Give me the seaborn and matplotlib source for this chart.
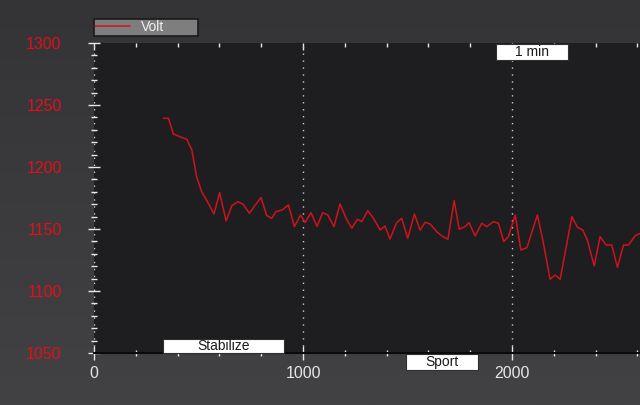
import numpy as np
import pandas as pd
import matplotlib
matplotlib.use("Agg")
import matplotlib.pyplot as plt
import matplotlib.transforms as mtransforms
from matplotlib.patches import Rectangle
from matplotlib.ticker import MultipleLocator
from matplotlib.colors import LinearSegmentedColormap
import seaborn as sns

# ---- data ----
time_s = [332, 356, 380, 412, 444, 468, 491, 515, 547, 574, 601, 632, 660, 689,
          714, 743, 770, 799, 826, 850, 871, 900, 930, 959, 988, 1010, 1038,
          1067, 1094, 1118, 1148, 1177, 1206, 1233, 1260, 1281, 1310, 1337,
          1369, 1392, 1416, 1448, 1472, 1501, 1533, 1560, 1584, 1608, 1640,
          1664, 1693, 1723, 1747, 1775, 1794, 1823, 1855, 1879, 1911, 1935,
          1960, 1982, 2015, 2042, 2071, 2121, 2147, 2182, 2206, 2230, 2286,
          2313, 2338, 2360, 2393, 2421, 2450, 2477, 2504, 2533, 2557, 2589, 2613]
volt = [1239.3, 1239.3, 1226.6, 1224.4, 1222.3, 1213.7, 1192.2, 1180.1, 1170.7,
        1162.1, 1179.3, 1156.5, 1169.0, 1172.0, 1169.9, 1162.7, 1169.0, 1175.4,
        1160.9, 1158.6, 1164.1, 1165.3, 1169.4, 1151.9, 1161.3, 1155.2, 1163.2,
        1152.0, 1163.2, 1161.3, 1151.9, 1170.2, 1158.6, 1150.6, 1157.8, 1155.9,
        1164.8, 1158.6, 1149.2, 1152.4, 1141.9, 1155.1, 1158.6, 1142.5, 1162.1,
        1149.2, 1155.4, 1154.0, 1147.8, 1144.4, 1141.7, 1172.8, 1149.8, 1151.9,
        1155.1, 1144.4, 1154.6, 1151.9, 1155.9, 1154.6, 1139.8, 1143.8, 1161.3,
        1133.1, 1134.9, 1161.3, 1141.1, 1109.4, 1112.9, 1109.4, 1159.9, 1151.4,
        1149.2, 1141.1, 1120.2, 1143.8, 1137.1, 1137.1, 1119.1, 1137.1, 1137.1,
        1144.6, 1146.5]

series_name = "Volt"
event_names = ["Stabilize", "Sport", "1 min"]
event_start = [330, 1493, 1923]
event_end = [910, 1837, 2268]
event_row = ["inside_bottom", "below", "top"]

x_limits = (0, 2612)
y_limits = (1050, 1300)
y_ticks = [1050, 1100, 1150, 1200, 1250, 1300]
x_ticks = [0, 1000, 2000]

# ---- style ----
sns.set_style("dark", rc={"axes.facecolor": "#1e1e20", "figure.facecolor": "#3a3a3c"})
plt.rcParams['font.family'] = ['Liberation Sans', 'DejaVu Sans']

W, H = 640, 405
fig = plt.figure(figsize=(W / 100, H / 100), dpi=100)
fig.patch.set_facecolor('#3a3a3c')

# subtle background gradient
bg = fig.add_axes([0, 0, 1, 1], zorder=-10)
grad = np.linspace(0, 1, 256).reshape(-1, 1)
cm = LinearSegmentedColormap.from_list("bg", ["#343436", "#424244"])
bg.imshow(grad, aspect='auto', cmap=cm, extent=[0, 1, 0, 1], origin='upper')
bg.axis('off')

ax = fig.add_axes([94 / W, 1 - 353 / H, 546 / W, 310 / H])
ax.set_facecolor('#1e1e20')

df = pd.DataFrame({"Time": time_s, series_name: volt})
sns.lineplot(data=df, x="Time", y=series_name, ax=ax, color="#d0121f",
             linewidth=1.1, label=series_name, sort=False)

ax.set_xlim(*x_limits)
ax.set_ylim(*y_limits)
ax.set_xlabel("")
ax.set_ylabel("")
ax.set_xticks(x_ticks)
ax.set_yticks(y_ticks)
ax.xaxis.set_minor_locator(MultipleLocator(200))
ax.yaxis.set_minor_locator(MultipleLocator(10))

for s in ["left", "right", "top"]:
    ax.spines[s].set_visible(False)
ax.spines["bottom"].set_color("#0a0a0a")
ax.spines["bottom"].set_linewidth(1.5)

ax.tick_params(axis='y', which='major', direction='inout', length=8.6, width=1,
               color='#e8e8e8', labelcolor='#e0101a', labelsize=11.5, pad=19,
               left=True)
ax.tick_params(axis='y', which='minor', direction='inout', length=4.8, width=1,
               color='#e8e8e8', left=True)
ax.tick_params(axis='x', which='major', direction='inout', length=9.4, width=1,
               color='#e8e8e8', labelcolor='#e6e6e6', labelsize=11.5, pad=5,
               bottom=True)
ax.tick_params(axis='x', which='minor', direction='inout', length=4.3, width=1,
               color='#e8e8e8', bottom=True)

ax.grid(False)
ax.grid(axis='x', which='major', color='#d0d0d0', linestyle=(0, (1, 4)), linewidth=1)

# top ticks
sec = ax.secondary_xaxis('top')
sec.set_xticks(x_ticks)
sec.xaxis.set_minor_locator(MultipleLocator(200))
sec.tick_params(which='major', direction='in', length=5, width=1, color='#e8e8e8', labeltop=False)
sec.tick_params(which='minor', direction='in', length=2.9, width=1, color='#e8e8e8')
sec.spines['top'].set_visible(False)

# event labels
row_pos = {"inside_bottom": (0.0, 0.045), "below": (-0.055, -0.003), "top": (0.945, 0.997)}
trans = mtransforms.blended_transform_factory(ax.transData, ax.transAxes)
for name, x0, x1, row in zip(event_names, event_start, event_end, event_row):
    y0, y1 = row_pos[row]
    ax.add_patch(Rectangle((x0, y0), x1 - x0, y1 - y0, transform=trans,
                           facecolor='white', edgecolor='#303030', linewidth=0.8,
                           clip_on=False, zorder=6))
    ax.text((x0 + x1) / 2, (y0 + y1) / 2, name, transform=trans, ha='center',
            va='center', fontsize=10, color='#1a1a1a', zorder=7, clip_on=False)

leg = ax.legend(loc='lower left', bbox_to_anchor=(93.5 / W, 1 - 36 / H, 104 / W, 17 / H),
                bbox_transform=fig.transFigure, mode='expand', borderaxespad=0,
                frameon=True, fancybox=False, facecolor='#7e7e7e', edgecolor='#1a1a1a',
                framealpha=1, fontsize=10, handlelength=2.5, handletextpad=0.8,
                borderpad=0.12, labelcolor='#f0f0f0')
leg.get_frame().set_linewidth(1.2)

fig.savefig("out.png", dpi=100, facecolor=fig.get_facecolor())
